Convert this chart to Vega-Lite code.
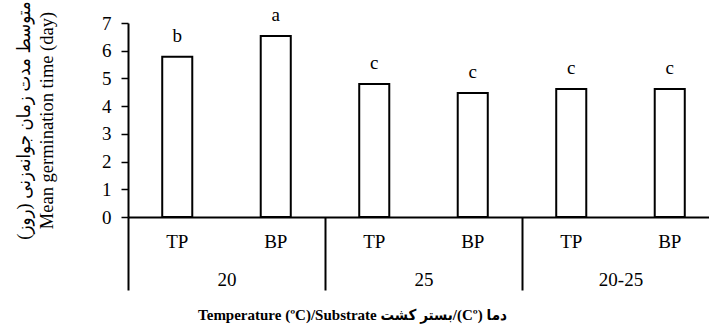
{
  "$schema": "https://vega.github.io/schema/vega-lite/v6.json",
  "autosize": {"type": "none"},
  "width": 581,
  "height": 194,
  "padding": {"left": 128, "top": 23, "right": 0, "bottom": 109},
  "background": "white",
  "config": {
    "view": {"stroke": null},
    "font": "Liberation Serif",
    "axis": {"labelFont": "Liberation Serif", "titleFont": "Liberation Serif, 'DejaVu Sans Condensed'", "labelColor": "black", "titleColor": "black", "grid": false}
  },
  "data": {
    "values": [
      {"group": "20", "substrate": "TP", "key": "20 TP", "mgt": 5.78, "letter": "b"},
      {"group": "20", "substrate": "BP", "key": "20 BP", "mgt": 6.53, "letter": "a"},
      {"group": "25", "substrate": "TP", "key": "25 TP", "mgt": 4.8, "letter": "c"},
      {"group": "25", "substrate": "BP", "key": "25 BP", "mgt": 4.47, "letter": "c"},
      {"group": "20-25", "substrate": "TP", "key": "20-25 TP", "mgt": 4.62, "letter": "c"},
      {"group": "20-25", "substrate": "BP", "key": "20-25 BP", "mgt": 4.62, "letter": "c"}
    ]
  },
  "layer": [
    {
      "encoding": {
        "x": {
          "field": "key", "type": "ordinal",
          "sort": ["20 TP", "20 BP", "25 TP", "25 BP", "20-25 TP", "20-25 BP"],
          "scale": {"domain": ["20 TP", "20 BP", "25 TP", "25 BP", "20-25 TP", "20-25 BP"], "range": [0, 591], "paddingInner": 0.695, "paddingOuter": 0.3475},
          "axis": {
            "orient": "bottom",
            "title": null,
            "labelExpr": "split(datum.value, ' ')[1]",
            "labelAngle": 0,
            "labelFontSize": 19,
            "labelPadding": 15,
            "ticks": false,
            "domainColor": "black",
            "domainWidth": 2
          }
        },
        "y": {
          "field": "mgt", "type": "quantitative",
          "scale": {"domain": [0, 7], "nice": false},
          "axis": {
            "values": [0, 1, 2, 3, 4, 5, 6, 7],
            "labelOverlap": false,
            "title": ["\u2067متوسط مدت زمان جوانه‌زنی (روز)\u2069", "Mean germination time (day)"],
            "titleFontSize": 18.5,
            "titleFontWeight": "normal",
            "titleLineHeight": 23,
            "titlePadding": 45,
            "labelFontSize": 19,
            "labelPadding": 10,
            "tickSize": 7,
            "tickWidth": 1.5,
            "tickColor": "black",
            "domainColor": "black",
            "domainWidth": 2
          }
        }
      },
      "layer": [
        {"mark": {"type": "bar", "fill": "white", "stroke": "black", "strokeWidth": 2}},
        {
          "mark": {"type": "text", "fontSize": 19, "font": "Liberation Serif", "baseline": "alphabetic", "dy": -15, "color": "black"},
          "encoding": {"text": {"field": "letter"}}
        }
      ]
    },
    {
      "mark": {"type": "bar", "opacity": 0},
      "encoding": {
        "x": {
          "field": "group", "type": "ordinal",
          "sort": ["20", "25", "20-25"],
          "scale": {"domain": ["20", "25", "20-25"], "range": [0, 591], "paddingInner": 0, "paddingOuter": 0},
          "axis": {
            "orient": "bottom",
            "title": "Temperature (ºC)/Substrate \u2067دما (Cº)/بستر کشت\u2069",
            "titleFontSize": 15,
            "titleFontWeight": "bold",
            "titlePadding": 16,
            "titleX": 224,
            "labelAngle": 0,
            "labelFontSize": 19,
            "labelPadding": -20,
            "domain": false,
            "ticks": true,
            "tickBand": "extent",
            "tickSize": 73,
            "tickWidth": 2,
            "tickColor": "black"
          }
        }
      }
    }
  ],
  "resolve": {"scale": {"x": "independent"}, "axis": {"x": "independent"}}
}
